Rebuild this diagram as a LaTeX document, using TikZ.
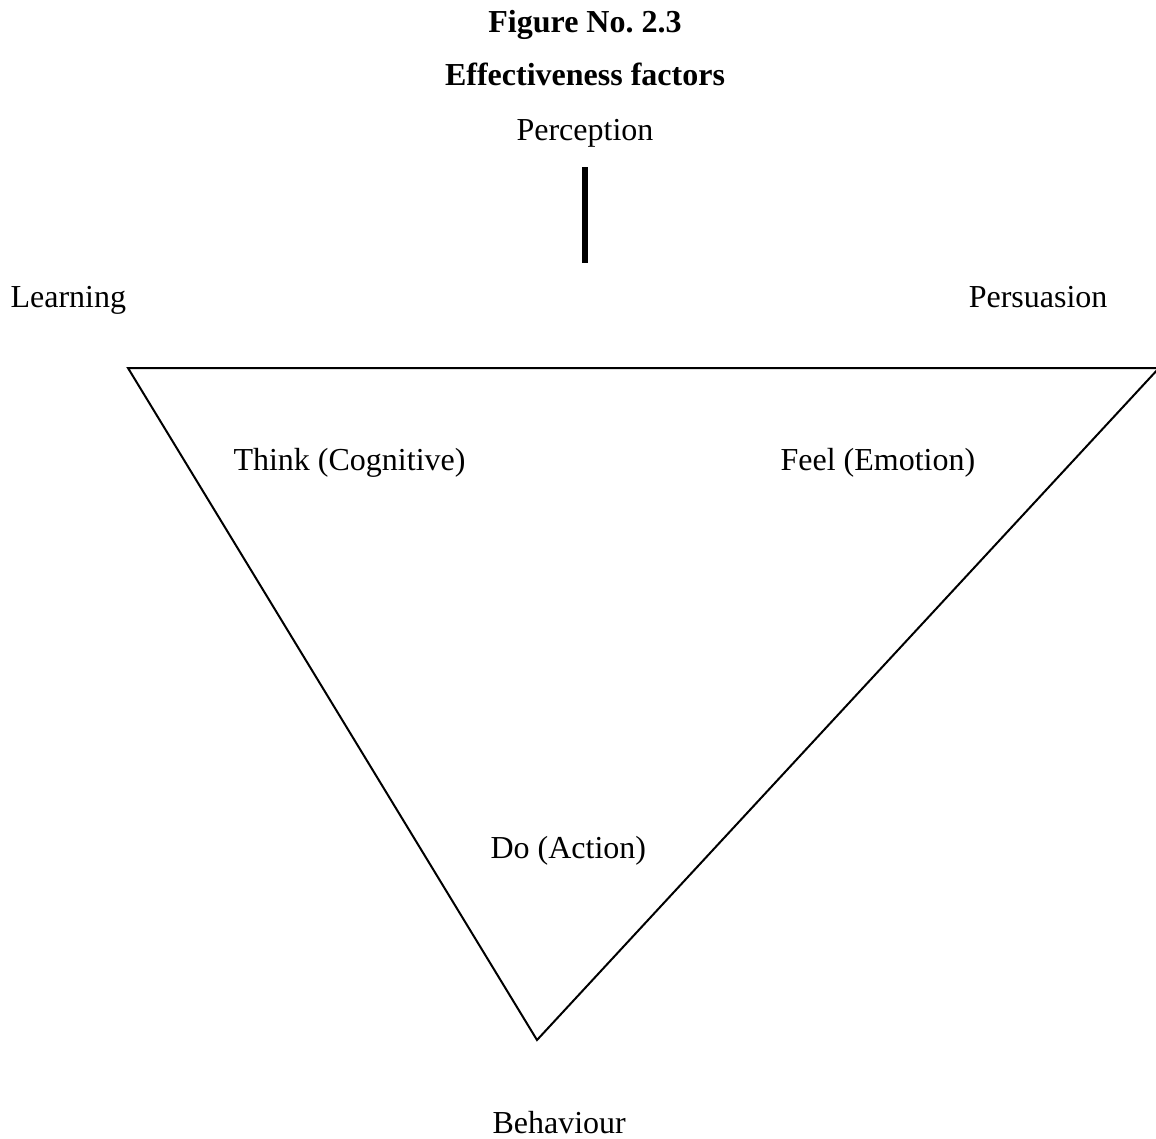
\documentclass[tikz,border=0pt]{standalone}
\usepackage{fontspec}
\setmainfont{Liberation Serif}
\usetikzlibrary{positioning}

\begin{document}
\begin{tikzpicture}[
    x=0.375pt, y=-0.375pt,
    txt/.style={anchor=base west, inner sep=0pt, font=\fontsize{12}{14}\selectfont},
    heading/.style={anchor=base, inner sep=0pt, font=\fontsize{12}{14}\selectfont\bfseries},
    triline/.style={line width=0.75pt, line join=miter},
    stem/.style={line width=2.5pt}
]
    \useasboundingbox (0,0) rectangle (1156,1138);

    % titles
    \node [heading] (fig) at (585,32) {Figure No.\ 2.3};
    \node [heading] (title) at (585,85) {Effectiveness factors};

    % factors round the triangle
    \node [txt, anchor=base] (perception) at (585,140) {Perception};
    \node [txt] (learning) at (10,307) {Learning};
    \node [txt, anchor=base east] (persuasion) at (1108,307) {Persuasion};
    \node [txt] (behaviour) at (492,1133) {Behaviour};

    % inside the triangle
    \node [txt] (think) at (233,470) {Think (Cognitive)};
    \node [txt] (feel) at (780,470) {Feel (Emotion)};
    \node [txt] (do) at (490,858) {Do (Action)};

    % corners and bar ends
    \coordinate (tl) at (128,368);
    \coordinate (tr) at (1159,368);
    \coordinate (bt) at (537,1040);
    \coordinate (stemtop) at (585,167);
    \coordinate (stembot) at (585,263);

    \draw [stem] (stemtop) -- (stembot);
    \draw [triline] (tl) -- (tr) -- (bt) -- cycle;
\end{tikzpicture}
\end{document}
